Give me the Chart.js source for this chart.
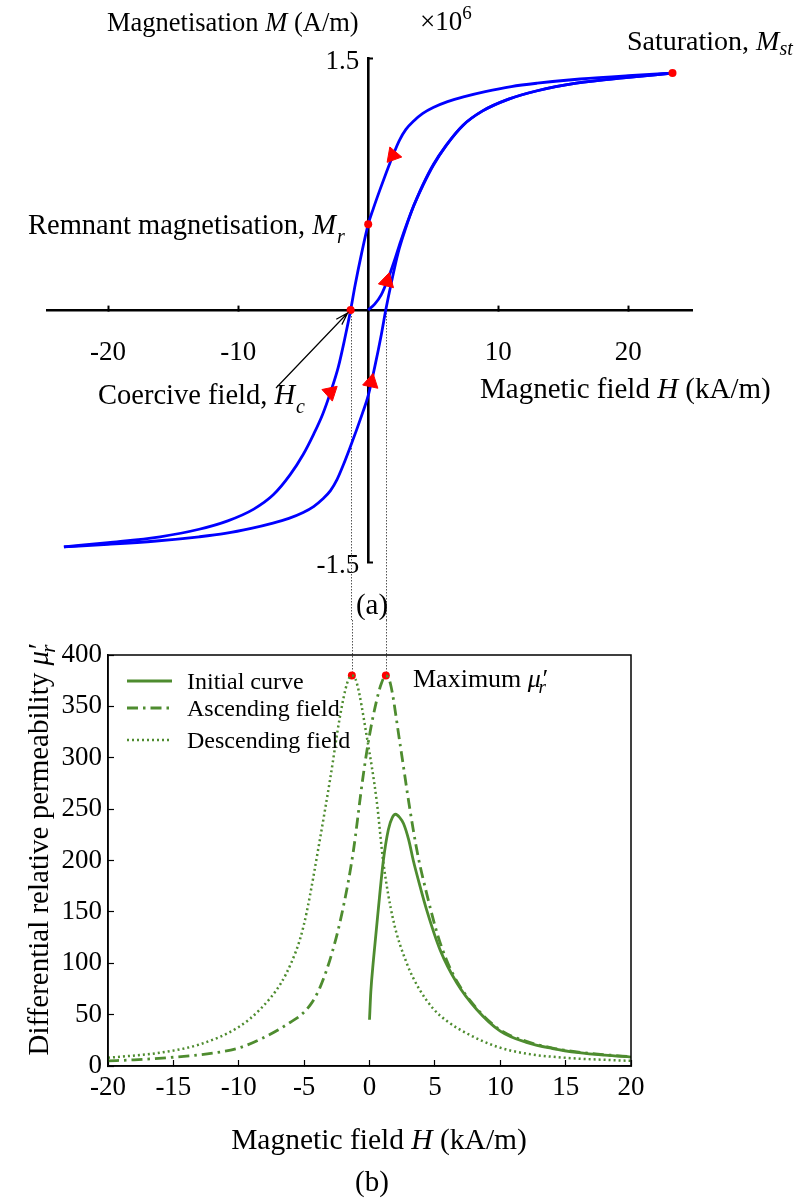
<!DOCTYPE html>
<html>
<head>
<meta charset="utf-8">
<script src="https://cdn.jsdelivr.net/npm/chart.js@4.4.0/dist/chart.umd.min.js"></script>
<style>
  html, body { margin: 0; padding: 0; background: #fff; }
  #wrap { position: relative; width: 803px; height: 1200px; }
  canvas { position: absolute; left: 0; }
  #loop { top: 0; }
  #perm { top: 620px; }
</style>
</head>
<body>
<div id="wrap">
  <canvas id="loop" width="803" height="620"></canvas>
  <canvas id="perm" width="803" height="580"></canvas>
</div>
<script>
// ---------- (a) hysteresis loop, M in 10^6 A/m, H in kA/m ----------
const descH = [23.4, 20, 16.3, 13, 11, 9, 7.4, 6.1, 5.0, 4.2, 3.5, 2.9, 2.4, 1.9, 1.4, 0.9, 0.4, 0, -0.5, -1.0, -1.35, -1.8, -2.3, -2.9, -3.5, -4.2, -5.0, -6.0, -7.3, -8.8, -10.8, -13, -16, -20, -23.4];
const descM = [1.41, 1.395, 1.375, 1.35, 1.33, 1.30, 1.27, 1.24, 1.205, 1.17, 1.125, 1.075, 1.01, 0.92, 0.82, 0.715, 0.605, 0.51, 0.34, 0.15, 0, -0.17, -0.34, -0.49, -0.62, -0.74, -0.86, -0.98, -1.10, -1.185, -1.255, -1.305, -1.35, -1.385, -1.41];
const ascH = [-23.4, -20, -16.3, -13, -11, -9, -7.4, -6.1, -5.0, -4.2, -3.5, -2.9, -2.4, -1.9, -1.4, -0.9, -0.4, 0, 0.5, 1.0, 1.35, 1.8, 2.3, 2.9, 3.5, 4.2, 5.0, 6.0, 7.3, 8.8, 10.8, 13, 16, 20, 23.4];
const ascM = [-1.41, -1.395, -1.375, -1.35, -1.33, -1.30, -1.27, -1.24, -1.205, -1.17, -1.125, -1.075, -1.01, -0.92, -0.82, -0.715, -0.605, -0.51, -0.34, -0.15, 0, 0.17, 0.34, 0.49, 0.62, 0.74, 0.86, 0.98, 1.10, 1.185, 1.255, 1.305, 1.35, 1.385, 1.41];
const initH = [0, 0.5, 1.0, 1.5, 2.0, 2.5, 3.0, 3.5, 4.2, 5.0, 6.0, 7.3, 8.8, 10.8, 13, 16, 20, 23.4];
const initM = [0, 0.035, 0.09, 0.18, 0.29, 0.41, 0.52, 0.62, 0.745, 0.865, 0.98, 1.10, 1.185, 1.255, 1.305, 1.35, 1.385, 1.41];
// direction arrows along the loop
const arrowH = [1.9, -2.9, 1.45, 0.23];
const arrowM = [0.92, -0.49, 0.17, -0.43];
const arrowRot = [100, 168, 14, 12];
// saturation, remanence, coercivity
const keyH = [23.4, 0, -1.35];
const keyM = [1.41, 0.51, 0];
const coerciveField = 1.35;
const loopTicksH = [-20, -10, 10, 20];
const loopTicksM = [-1.5, 1.5];

// ---------- (b) differential relative permeability ----------
const initCurveH = [0, 0.1, 0.3, 0.67, 1.06, 1.44, 1.75, 2.0, 2.3, 2.6, 3.0, 3.35, 3.8, 4.37, 5.4, 6.67, 8.2, 10, 12, 14, 16, 18, 20];
const initCurveMu = [45, 72, 103, 152, 200, 230, 242, 245, 242, 236, 220, 200, 178, 152, 113, 81, 55, 34, 23, 17, 13, 10.5, 8.7];
const ascCurveH = [-20, -18, -15, -12, -10, -8.2, -7, -6, -5.3, -4.5, -3.8, -2.8, -2.0, -1.26, -0.5, 0.0, 0.55, 0.9, 1.25, 1.6, 2.33, 3.1, 3.7, 4.37, 5.2, 5.9, 6.7, 8.2, 10, 12, 14, 16, 18, 20];
const ascCurveMu = [5, 6, 8.5, 12.5, 17.5, 27, 35, 43, 49, 60, 76, 113, 155, 207, 281, 322, 356, 372, 380, 372, 314, 249, 205, 168, 128, 103, 82, 56, 35, 24, 17.5, 13.5, 11, 9];
const descCurveH = [-20, -16, -13, -10, -8.3, -6.8, -6, -5.3, -4.8, -3.8, -3.0, -2.26, -1.7, -1.35, -1.0, -0.2, 0.55, 1.06, 1.8, 2.85, 3.8, 4.86, 6, 7.4, 9.7, 12, 15, 18, 20];
const descCurveMu = [8, 13, 21, 38, 56, 80, 100, 124, 150, 220, 280, 340, 373, 380, 374, 320, 258, 198, 143, 100, 75, 56, 43, 32, 19, 12, 8, 6, 5];
const peakH = [-1.35, 1.25];
const peakMu = [380, 380];
const permTicksH = [-20, -15, -10, -5, 0, 5, 10, 15, 20];
const permTicksMu = [0, 50, 100, 150, 200, 250, 300, 350, 400];

const seriesNames = ['Initial curve', 'Ascending field', 'Descending field'];

const SERIF = "'Liberation Serif', 'Times New Roman', serif";
const BLUE = '#0000ff';
const RED = '#ff0000';
const GREEN = '#4e8c2f';

Chart.defaults.font.family = SERIF;
Chart.defaults.color = '#000';
Chart.defaults.animation = false;

const pts = (xs, ys) => xs.map((x, i) => ({ x, y: ys[i] }));

// draws a run of text pieces (normal / italic / sub- and superscript)
function richText(ctx, x, y, parts, align, base) {
  const font = p => (p.italic ? 'italic ' : '') + (p.size || base || 29) + 'px ' + SERIF;
  let total = 0;
  const widths = parts.map(p => {
    ctx.font = font(p);
    const w = ctx.measureText(p.t).width + (p.dx || 0);
    total += w;
    return w;
  });
  let cx = align === 'center' ? x - total / 2 : align === 'right' ? x - total : x;
  ctx.textAlign = 'left';
  ctx.textBaseline = 'alphabetic';
  parts.forEach((p, i) => {
    ctx.font = font(p);
    ctx.fillText(p.t, cx + (p.dx || 0), y + (p.dy || 0));
    cx += widths[i];
  });
}

function dottedVertical(ctx, x, y1, y2) {
  ctx.save();
  ctx.strokeStyle = '#555';
  ctx.lineWidth = 1;
  ctx.setLineDash([1.5, 1.5]);
  ctx.beginPath();
  ctx.moveTo(Math.round(x) + 0.5, y1);
  ctx.lineTo(Math.round(x) + 0.5, y2);
  ctx.stroke();
  ctx.restore();
}

// ---------- chart (a) ----------
const loopDecor = {
  id: 'loopDecor',
  beforeDatasetsDraw(chart) {
    const { ctx, scales: { x, y } } = chart;
    const y0 = y.getPixelForValue(0);
    dottedVertical(ctx, x.getPixelForValue(-coerciveField), y0, chart.height);
    dottedVertical(ctx, x.getPixelForValue(coerciveField), y0, chart.height);
  },
  afterDraw(chart) {
    const { ctx, scales: { x, y } } = chart;
    ctx.save();
    ctx.fillStyle = '#000';
    richText(ctx, 107, 31, [{ t: 'Magnetisation ' }, { t: 'M', italic: true }, { t: ' (A/m)' }], 'left', 26.5);
    richText(ctx, 420, 30, [{ t: '\u00d710', size: 27 }, { t: '6', size: 19, dy: -11 }]);
    richText(ctx, 627, 50, [{ t: 'Saturation, ' }, { t: 'M', italic: true }, { t: 'st', italic: true, size: 20, dy: 5 }], 'left', 28);
    richText(ctx, 28, 234, [{ t: 'Remnant magnetisation, ' }, { t: 'M', italic: true }, { t: 'r', italic: true, size: 20, dy: 9, dx: 1 }], 'left', 28.5);
    richText(ctx, 98, 404, [{ t: 'Coercive field, ' }, { t: 'H', italic: true }, { t: 'c', italic: true, size: 20, dy: 9, dx: 1 }], 'left', 28.5);
    richText(ctx, 480, 398, [{ t: 'Magnetic field ' }, { t: 'H', italic: true }, { t: ' (kA/m)' }], 'left', 29);
    richText(ctx, 372, 614, [{ t: '(a)' }], 'center', 29);

    // pointer to the coercive point
    const tx = x.getPixelForValue(-coerciveField) - 3;
    const ty = y.getPixelForValue(0) + 3;
    const sx = 276, sy = 388;
    const ang = Math.atan2(ty - sy, tx - sx);
    ctx.strokeStyle = '#000';
    ctx.lineWidth = 1.2;
    ctx.beginPath();
    ctx.moveTo(sx, sy);
    ctx.lineTo(tx, ty);
    ctx.moveTo(tx - 13 * Math.cos(ang - 0.3), ty - 13 * Math.sin(ang - 0.3));
    ctx.lineTo(tx, ty);
    ctx.lineTo(tx - 13 * Math.cos(ang + 0.3), ty - 13 * Math.sin(ang + 0.3));
    ctx.stroke();
    ctx.restore();
  }
};

const loopLine = { showLine: true, borderColor: BLUE, borderWidth: 2.8, pointRadius: 0, cubicInterpolationMode: 'monotone', order: 3 };

new Chart(document.getElementById('loop'), {
  type: 'scatter',
  data: {
    datasets: [
      { label: 'Descending branch', data: pts(descH, descM), ...loopLine },
      { label: 'Ascending branch', data: pts(ascH, ascM), ...loopLine },
      { label: 'Initial magnetisation', data: pts(initH, initM), ...loopLine },
      { label: 'Direction', data: pts(arrowH, arrowM), pointStyle: 'triangle', rotation: c => arrowRot[c.dataIndex], pointRadius: 9, backgroundColor: RED, borderColor: RED, borderWidth: 1, order: 1 },
      { label: 'Key points', data: pts(keyH, keyM), pointStyle: 'circle', pointRadius: 4, backgroundColor: RED, borderColor: RED, borderWidth: 0, order: 0 }
    ]
  },
  options: {
    responsive: false,
    events: [],
    layout: { padding: { left: 47, right: 111, top: 58, bottom: 58 } },
    plugins: { legend: { display: false }, tooltip: { enabled: false } },
    scales: {
      x: {
        type: 'linear', min: -24.7, max: 24.9, position: { y: 0 },
        afterBuildTicks: s => { s.ticks = loopTicksH.map(v => ({ value: v })); },
        ticks: { font: { size: 27 }, color: '#000', padding: 33, maxRotation: 0, autoSkip: false, callback: v => String(v) },
        grid: { drawOnChartArea: false, drawTicks: true, tickLength: -6, tickWidth: 2, tickColor: '#000' },
        border: { display: true, color: '#000', width: 2.6 }
      },
      y: {
        type: 'linear', min: -1.5, max: 1.5, position: { x: 0 },
        afterBuildTicks: s => { s.ticks = loopTicksM.map(v => ({ value: v })); },
        ticks: { font: { size: 27 }, color: '#000', autoSkip: false, labelOffset: 4, callback: v => v.toFixed(1) + '\u2004' },
        grid: { drawOnChartArea: false, drawTicks: true, tickLength: -6, tickWidth: 2, tickColor: '#000' },
        border: { display: true, color: '#000', width: 2.6 }
      }
    }
  },
  plugins: [loopDecor]
});

// ---------- chart (b) ----------
const permDecor = {
  id: 'permDecor',
  beforeDatasetsDraw(chart) {
    const { ctx, scales: { x, y } } = chart;
    peakH.forEach((h, i) => dottedVertical(ctx, x.getPixelForValue(h), 0, y.getPixelForValue(peakMu[i]) - 4));
  },
  afterDraw(chart) {
    const { ctx, chartArea: a } = chart;
    ctx.save();
    // plot frame
    ctx.strokeStyle = '#000';
    ctx.lineWidth = 1.5;
    ctx.strokeRect(a.left, a.top, a.right - a.left, a.bottom - a.top);

    // legend
    const rows = [61, 88, 120];
    chart.data.datasets.slice(0, 3).forEach((ds, i) => {
      ctx.strokeStyle = ds.borderColor;
      ctx.lineWidth = ds.borderWidth;
      ctx.setLineDash(ds.borderDash || []);
      ctx.beginPath();
      ctx.moveTo(127, rows[i]);
      ctx.lineTo(172, rows[i]);
      ctx.stroke();
      ctx.setLineDash([]);
      ctx.fillStyle = '#000';
      richText(ctx, 187, rows[i] + 8, [{ t: ds.label }], 'left', 24);
    });

    ctx.fillStyle = '#000';
    richText(ctx, 413, 67, [{ t: 'Maximum ' }, { t: '\u03bc\u2032', italic: true }, { t: 'r', italic: true, size: 19, dy: 6, dx: -8 }], 'left', 26);
    richText(ctx, 379, 529, [{ t: 'Magnetic field ' }, { t: 'H', italic: true }, { t: ' (kA/m)' }], 'center', 29.5);
    richText(ctx, 372, 571, [{ t: '(b)' }], 'center', 29);

    ctx.save();
    ctx.translate(48, 230);
    ctx.rotate(-Math.PI / 2);
    richText(ctx, 0, 0, [{ t: 'Differential relative permeability ' }, { t: '\u03bc\u2032', italic: true }, { t: 'r', italic: true, size: 21, dy: 7, dx: -8 }], 'center', 29);
    ctx.restore();
    ctx.restore();
  }
};

const permLine = { showLine: true, borderColor: GREEN, pointRadius: 0, cubicInterpolationMode: 'monotone' };

new Chart(document.getElementById('perm'), {
  type: 'scatter',
  data: {
    datasets: [
      { label: seriesNames[0], data: pts(initCurveH, initCurveMu), ...permLine, borderWidth: 2.8 },
      { label: seriesNames[1], data: pts(ascCurveH, ascCurveMu), ...permLine, borderWidth: 2.8, borderDash: [11, 5, 2.5, 5] },
      { label: seriesNames[2], data: pts(descCurveH, descCurveMu), ...permLine, borderWidth: 2.5, borderDash: [2, 3] },
      { label: 'Maximum', data: pts(peakH, peakMu), pointRadius: 4, backgroundColor: RED, borderColor: RED, borderWidth: 0 }
    ]
  },
  options: {
    responsive: false,
    events: [],
    layout: { padding: { left: 0, right: 172, top: 35, bottom: 0 } },
    plugins: { legend: { display: false }, tooltip: { enabled: false } },
    scales: {
      x: {
        type: 'linear', min: -20, max: 20, position: 'bottom',
        afterBuildTicks: s => { s.ticks = permTicksH.map(v => ({ value: v })); },
        afterFit: s => { s.height = 134; },
        ticks: { font: { size: 27 }, color: '#000', padding: 12, maxRotation: 0, autoSkip: false },
        grid: { drawOnChartArea: false, drawTicks: true, tickLength: -6, tickWidth: 1.2, tickColor: '#000' },
        border: { display: true, color: '#000', width: 1.5 }
      },
      y: {
        type: 'linear', min: 0, max: 400, position: 'left',
        afterBuildTicks: s => { s.ticks = permTicksMu.map(v => ({ value: v })); },
        afterFit: s => { s.width = 108; },
        ticks: { font: { size: 27 }, color: '#000', padding: 12, autoSkip: false },
        grid: { drawOnChartArea: false, drawTicks: true, tickLength: -6, tickWidth: 1.2, tickColor: '#000' },
        border: { display: true, color: '#000', width: 1.5 }
      }
    }
  },
  plugins: [permDecor]
});
</script>
</body>
</html>
